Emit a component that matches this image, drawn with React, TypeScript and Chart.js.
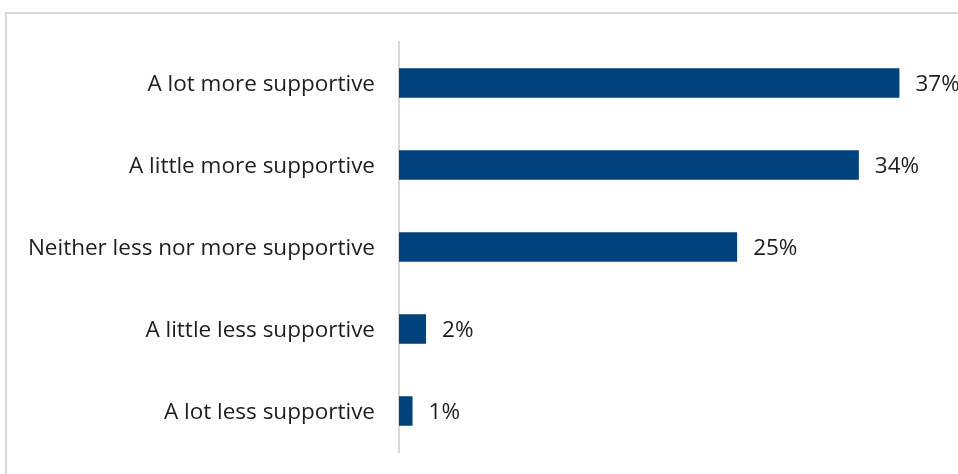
import React, { useEffect, useRef } from "react";
import { Chart, registerables } from "chart.js";

Chart.register(...registerables);

const categories = [
  "A lot more supportive",
  "A little more supportive",
  "Neither less nor more supportive",
  "A little less supportive",
  "A lot less supportive",
];
const values = [37, 34, 25, 2, 1];
const valueLabels = ["37%", "34%", "25%", "2%", "1%"];

const FONT = "'Open Sans', 'Noto Sans', sans-serif";
const BAR_COLOR = "#00427B";
const TEXT_COLOR = "#1e1e1e";
const FONT_SIZE = 22.5;

const framePlugin = {
  id: "frame",
  beforeDraw(chart: any) {
    const ctx = chart.ctx;
    ctx.save();
    ctx.strokeStyle = "#d9d9d9";
    ctx.lineWidth = 2;
    ctx.beginPath();
    ctx.moveTo(6, chart.height);
    ctx.lineTo(6, 13);
    ctx.lineTo(chart.width, 13);
    ctx.stroke();
    ctx.restore();
  },
};

const valueLabelPlugin = {
  id: "valueLabels",
  afterDatasetsDraw(chart: any) {
    const ctx = chart.ctx;
    const meta = chart.getDatasetMeta(0);
    ctx.save();
    ctx.font = `${FONT_SIZE}px ${FONT}`;
    ctx.fillStyle = TEXT_COLOR;
    ctx.textAlign = "left";
    ctx.textBaseline = "middle";
    meta.data.forEach((bar: any, i: number) => {
      ctx.fillText(valueLabels[i], bar.x + 16, bar.y + 2);
    });
    ctx.restore();
  },
};

export default function App() {
  const ref = useRef<HTMLCanvasElement>(null);
  useEffect(() => {
    if (!ref.current) return;
    const chart = new Chart(ref.current, {
      type: "bar",
      data: {
        labels: categories,
        datasets: [
          {
            data: values,
            backgroundColor: BAR_COLOR,
            barPercentage: 0.36,
            categoryPercentage: 1,
          },
        ],
      },
      options: {
        indexAxis: "y",
        animation: false,
        responsive: false,
        devicePixelRatio: 1,
        layout: { padding: { left: 0, right: 18, top: 42, bottom: 22 } },
        plugins: {
          legend: { display: false },
          tooltip: { enabled: false },
        },
        scales: {
          x: { display: false, min: 0, max: 40 },
          y: {
            afterFit: (scale: any) => {
              scale.width = 399;
              scale.paddingTop = 0;
              scale.paddingBottom = 0;
            },
            grid: { display: false, drawTicks: false },
            border: { display: true, color: "#d9d9d9", width: 2 },
            ticks: {
              padding: 24,
              labelOffset: 2,
              color: TEXT_COLOR,
              font: { family: FONT, size: FONT_SIZE },
            },
          },
        },
      },
      plugins: [framePlugin, valueLabelPlugin],
    });
    return () => chart.destroy();
  }, []);
  return (
    <div style={{ position: "fixed", left: 0, top: 0, width: 958, height: 474, background: "#fff" }}>
      <canvas ref={ref} width={958} height={474} style={{ display: "block" }} />
    </div>
  );
}
